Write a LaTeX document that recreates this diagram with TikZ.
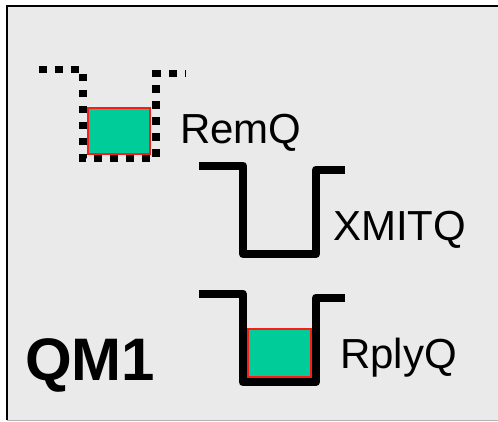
\documentclass[tikz,border=0pt]{standalone}
\usepackage{fontspec}
\setmainfont{Liberation Sans}
\definecolor{bggray}{HTML}{EAEAEA}
\definecolor{msggreen}{HTML}{00CC99}
\definecolor{msgred}{HTML}{FF1A1A}
\begin{document}
\begin{tikzpicture}[x=1pt,y=-1pt,
  qline/.style={line width=8pt, line join=round, line cap=butt},
  dotq/.style={line width=7.5pt, dash pattern=on 7.5pt off 8.5pt, line cap=butt},
  msg/.style={draw=msgred, line width=1.6pt, fill=msggreen, inner sep=0pt, outer sep=0pt, minimum width=#1},
  lbl/.style={font=\fontsize{42}{46}\selectfont, inner sep=0pt, anchor=base west},
  big/.style={font=\fontsize{60}{64}\selectfont\bfseries, inner sep=0pt, anchor=base west}]
\useasboundingbox (0,0) rectangle (498,421);
\fill[white] (0,0) rectangle (498,421);
\fill[bggray] (7,6) rectangle (498,420);
\draw[line width=2.5pt] (7,420) -- (7,6) -- (498,6);
\draw[line width=1pt, gray!60] (7,420) -- (498,420);
% RemQ (dotted)
\draw[dotq] (39,69.5) -- (83,69.5) -- (83,158.5) -- (156,158.5) -- (156,73.5) -- (186,73.5);
\node[msg=62pt, minimum height=46pt] (m1) at (119,131) {};
\node[lbl] (remq) at (180,143) {RemQ};
% XMITQ
\draw[qline] (199,165.5) -- (243,165.5) -- (243,254) -- (316,254) -- (316,169.5) -- (345,169.5);
\node[lbl] (xmitq) at (333,240) {XMITQ};
% RplyQ
\draw[qline] (199,293.5) -- (242.5,293.5) -- (242.5,382) -- (316,382) -- (316,297.5) -- (345,297.5);
\node[msg=63pt, minimum height=48pt] (m2) at (279.5,353) {};
\node[lbl] (rplyq) at (340,368) {RplyQ};
% QM1
\node[big] (qm1) at (25,380) {QM1};
\end{tikzpicture}
\end{document}
